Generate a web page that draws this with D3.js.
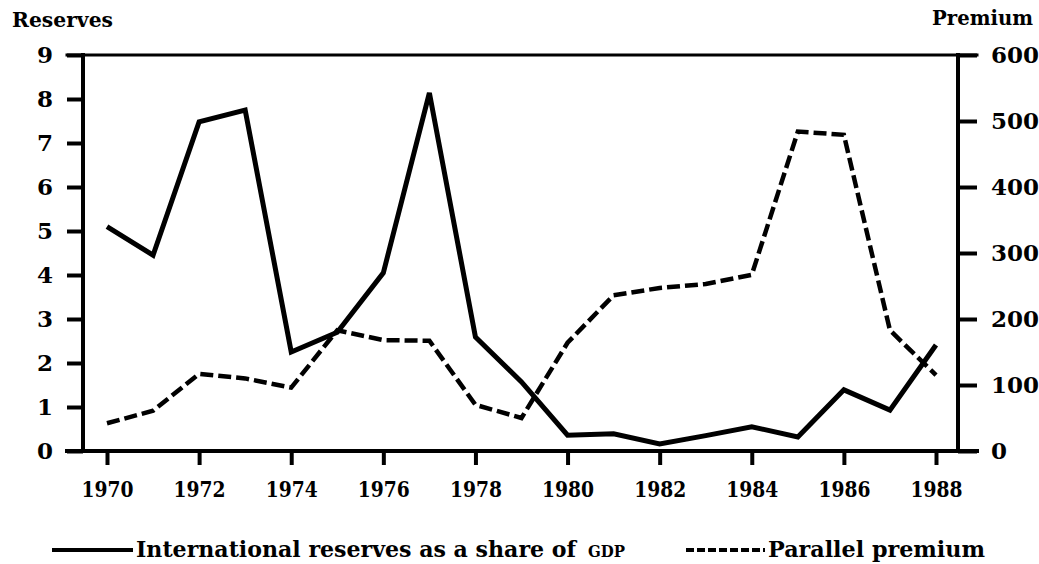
<!DOCTYPE html>
<html>
<head>
<meta charset="utf-8">
<script src="https://cdn.jsdelivr.net/npm/d3@7"></script>
<style>
  body { margin: 0; background: #fff; }
  text { font-family: "DejaVu Serif", serif; font-weight: bold; fill: #000; }
</style>
</head>
<body>
<div class="chart"></div>
<script>
var years = [1970, 1971, 1972, 1973, 1974, 1975, 1976, 1977, 1978, 1979,
             1980, 1981, 1982, 1983, 1984, 1985, 1986, 1987, 1988];
// international reserves as a share of GDP (left axis)
var reserves = [5.1, 4.45, 7.48, 7.75, 2.25, 2.7, 4.05, 8.14, 2.59, 1.57,
                0.36, 0.39, 0.16, 0.35, 0.55, 0.32, 1.39, 0.93, 2.41];
// parallel premium (right axis)
var premium = [42, 61, 117, 110, 96, 183, 168, 167, 70, 50,
               164, 236, 247, 253, 267, 484, 479, 183, 115];
var yearTicks = [1970, 1972, 1974, 1976, 1978, 1980, 1982, 1984, 1986, 1988];
var leftTicks = [0, 1, 2, 3, 4, 5, 6, 7, 8, 9];
var rightTicks = [0, 100, 200, 300, 400, 500, 600];

var svgWidth = 1039;
var svgHeight = 564;

var plot = { left: 83, right: 958, top: 55, bottom: 451 };

var svg = d3.select(".chart")
  .append("svg")
  .attr("width", svgWidth)
  .attr("height", svgHeight);

var x = d3.scaleLinear()
  .domain([1970, 1988])
  .range([107, 936]);

var yLeft = d3.scaleLinear()
  .domain([0, 9])
  .range([plot.bottom, plot.top]);

var yRight = d3.scaleLinear()
  .domain([0, 600])
  .range([plot.bottom, plot.top]);

// axes
var leftAxis = d3.axisLeft(yLeft).tickValues(leftTicks).tickSize(16).tickPadding(14).tickSizeOuter(0);
var rightAxis = d3.axisRight(yRight).tickValues(rightTicks).tickSize(19).tickPadding(14).tickSizeOuter(0);
var bottomAxis = d3.axisBottom(x).tickValues(yearTicks).tickFormat(d3.format("d")).tickSize(14).tickPadding(16).tickSizeOuter(0);

function styleAxis(g) {
  g.select(".domain").remove();
  g.selectAll(".tick line").attr("stroke", "#000").attr("stroke-width", 4);
  g.selectAll(".tick text").attr("font-size", 23).attr("fill", "#000")
    .attr("font-family", null);
}

svg.append("g")
  .attr("transform", `translate(${plot.left}, 0)`)
  .call(leftAxis)
  .call(styleAxis);

svg.append("g")
  .attr("transform", `translate(${plot.right}, 0)`)
  .call(rightAxis)
  .call(styleAxis);

svg.append("g")
  .attr("transform", `translate(0, ${plot.bottom})`)
  .call(bottomAxis)
  .call(styleAxis)
  .selectAll(".tick text")
  .attr("textLength", 52)
  .attr("lengthAdjust", "spacingAndGlyphs");

// frame lines
var frame = svg.append("g").attr("stroke", "#000").attr("stroke-linecap", "square");
frame.append("line").attr("x1", 67).attr("x2", 977).attr("y1", plot.top).attr("y2", plot.top).attr("stroke-width", 3);
frame.append("line").attr("x1", 67).attr("x2", 977).attr("y1", plot.bottom).attr("y2", plot.bottom).attr("stroke-width", 4);
frame.append("line").attr("x1", plot.left).attr("x2", plot.left).attr("y1", plot.top).attr("y2", plot.bottom).attr("stroke-width", 4);
frame.append("line").attr("x1", plot.right).attr("x2", plot.right).attr("y1", plot.top).attr("y2", plot.bottom).attr("stroke-width", 4);

// lines
var reservesLine = d3.line()
  .x((d, i) => x(years[i]))
  .y(d => yLeft(d));

var premiumLine = d3.line()
  .x((d, i) => x(years[i]))
  .y(d => yRight(d));

svg.append("path")
  .datum(premium)
  .attr("d", premiumLine)
  .attr("fill", "none")
  .attr("stroke", "#000")
  .attr("stroke-width", 4.5)
  .attr("stroke-dasharray", "13,5");

svg.append("path")
  .datum(reserves)
  .attr("d", reservesLine)
  .attr("fill", "none")
  .attr("stroke", "#000")
  .attr("stroke-width", 5)
  .attr("stroke-linejoin", "miter");

// axis titles
svg.append("text")
  .attr("x", 12)
  .attr("y", 27)
  .attr("font-size", 21)
  .attr("textLength", 101)
  .attr("lengthAdjust", "spacingAndGlyphs")
  .text("Reserves");

svg.append("text")
  .attr("x", 932)
  .attr("y", 25)
  .attr("font-size", 20)
  .attr("textLength", 101)
  .attr("lengthAdjust", "spacingAndGlyphs")
  .text("Premium");

// legend
var legend = svg.append("g");
legend.append("line")
  .attr("x1", 52).attr("x2", 133).attr("y1", 550).attr("y2", 550)
  .attr("stroke", "#000").attr("stroke-width", 4);
legend.append("text")
  .attr("x", 136)
  .attr("y", 557)
  .attr("font-size", 21.5)
  .attr("textLength", 440)
  .attr("lengthAdjust", "spacingAndGlyphs")
  .text("International reserves as a share of");
legend.append("text")
  .attr("x", 588)
  .attr("y", 557)
  .attr("font-size", 16)
  .attr("textLength", 37)
  .attr("lengthAdjust", "spacingAndGlyphs")
  .text("GDP");

legend.append("line")
  .attr("x1", 686).attr("x2", 765).attr("y1", 550).attr("y2", 550)
  .attr("stroke", "#000").attr("stroke-width", 4)
  .attr("stroke-dasharray", "8,3");
legend.append("text")
  .attr("x", 768)
  .attr("y", 557)
  .attr("font-size", 22)
  .attr("textLength", 217)
  .attr("lengthAdjust", "spacingAndGlyphs")
  .text("Parallel premium");
</script>
</body>
</html>
